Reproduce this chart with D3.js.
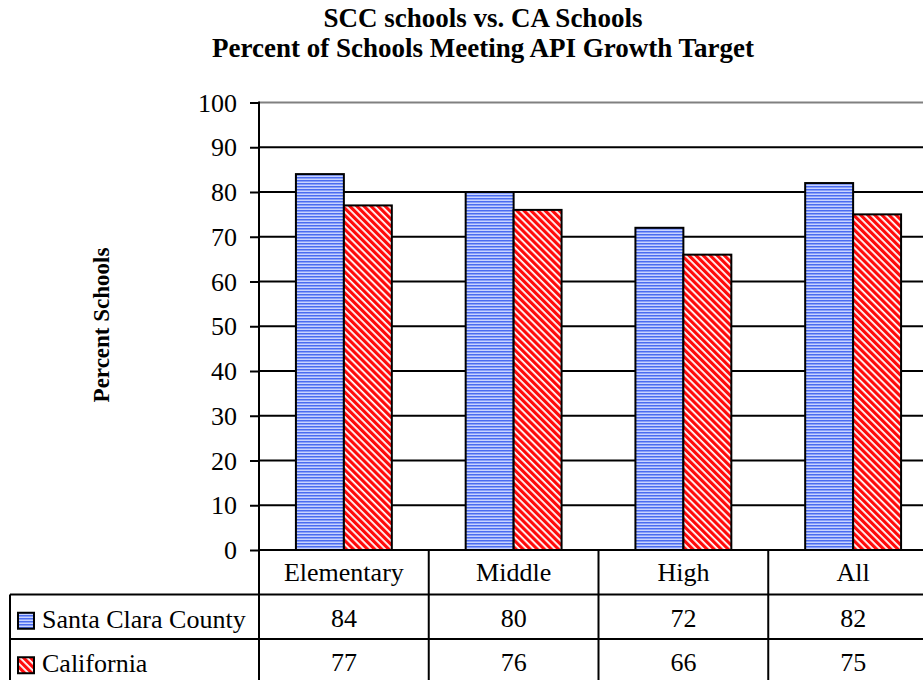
<!DOCTYPE html>
<html><head><meta charset="utf-8">
<script src="https://cdn.jsdelivr.net/npm/d3@7"></script>
<style>body{margin:0;background:#fff;} svg{display:block;}</style>
</head><body>
<svg id="c" width="923" height="680"></svg>
<script>
const categories = ["Elementary", "Middle", "High", "All"];
const seriesNames = ["Santa Clara County", "California"];
const sccValues = [84, 80, 72, 82];
const caValues = [77, 76, 66, 75];
const yTicks = [0, 10, 20, 30, 40, 50, 60, 70, 80, 90, 100];
const titleLines = ["SCC schools vs. CA Schools", "Percent of Schools Meeting API Growth Target"];
const yTitle = "Percent Schools";

(function () {
const series = [sccValues, caValues];
const font = "'Liberation Serif','Times New Roman',serif";
const svg = d3.select("#c");
const defs = svg.append("defs");

// patterns
const pb = defs.append("pattern").attr("id","pBlue").attr("patternUnits","userSpaceOnUse")
  .attr("width",4).attr("height",3);
pb.append("rect").attr("width",4).attr("height",3).attr("fill","#c8d3ff");
pb.append("rect").attr("width",4).attr("height",1.5).attr("fill","#4a6cf0");
const pr = defs.append("pattern").attr("id","pRed").attr("patternUnits","userSpaceOnUse")
  .attr("width",5).attr("height",5).attr("patternTransform","rotate(-45)");
pr.append("rect").attr("width",5).attr("height",5).attr("fill","#ffffff");
pr.append("rect").attr("width",3.2).attr("height",5).attr("fill","#ff0a0a");
const fills = ["url(#pBlue)", "url(#pRed)"];

const pL = 259, pR = 938, pT = 102.5, pB = 550;
const x = d3.scaleBand().domain(categories).range([pL, pR]).padding(0);
const xs = d3.scaleBand().domain(seriesNames).range([0, x.bandwidth()]).paddingInner(0).paddingOuter(0.77);
const y = d3.scaleLinear().domain([0, 100]).range([pB, pT]);

// gridlines
svg.append("g").selectAll("line").data(yTicks.filter(d => d > 0)).join("line")
  .attr("x1", pL).attr("x2", pR)
  .attr("y1", d => y(d)).attr("y2", d => y(d))
  .attr("stroke", d => d === 100 ? "#808080" : "#000").attr("stroke-width", 2);

// bars
const g = svg.append("g");
categories.forEach((c, i) => {
  seriesNames.forEach((s, j) => {
    g.append("rect")
      .attr("x", x(c) + xs(s)).attr("y", y(series[j][i]))
      .attr("width", xs.bandwidth()).attr("height", y(0) - y(series[j][i]))
      .attr("fill", fills[j]).attr("stroke", "#000").attr("stroke-width", 2);
  });
});

// y axis
const yAxis = d3.axisLeft(y).tickValues(yTicks).tickSize(9).tickPadding(13).tickFormat(d3.format("d"));
const ya = svg.append("g").attr("transform", `translate(${pL},0)`).call(yAxis);
ya.select(".domain").remove();
ya.selectAll(".tick line").attr("stroke", "#000").attr("stroke-width", 2);
ya.selectAll(".tick text").attr("font-family", font).attr("font-size", 26).attr("fill", "#000").attr("dy", "0.33em");
svg.append("line").attr("x1", pL).attr("x2", pL).attr("y1", pT - 1).attr("y2", 680)
  .attr("stroke", "#000").attr("stroke-width", 2);
svg.append("line").attr("x1", pL).attr("x2", pR).attr("y1", pB).attr("y2", pB)
  .attr("stroke", "#000").attr("stroke-width", 2);

// data table
const rowH = 44.5;
const rowY = [pB, pB + rowH, pB + 2 * rowH];
const tableLeft = 10;
const tg = svg.append("g");
[rowY[1], rowY[2]].forEach(yy => {
  tg.append("line").attr("x1", tableLeft).attr("x2", pR).attr("y1", yy).attr("y2", yy)
    .attr("stroke", "#000").attr("stroke-width", 2);
});
tg.append("line").attr("x1", tableLeft).attr("x2", tableLeft).attr("y1", rowY[1]).attr("y2", 680)
  .attr("stroke", "#000").attr("stroke-width", 2);
categories.forEach(c => {
  tg.append("line").attr("x1", x(c) + x.bandwidth()).attr("x2", x(c) + x.bandwidth())
    .attr("y1", pB).attr("y2", 680).attr("stroke", "#000").attr("stroke-width", 2);
});
tg.selectAll("text.cat").data(categories).join("text").attr("class","cat")
  .attr("x", d => x(d) + x.bandwidth() / 2).attr("y", rowY[0] + rowH / 2)
  .attr("dy", "0.35em").attr("text-anchor", "middle")
  .attr("font-family", font).attr("font-size", 26).text(d => d);
series.forEach((vals, j) => {
  tg.selectAll("text.v" + j).data(vals).join("text").attr("class", "v" + j)
    .attr("x", (d, i) => x(categories[i]) + x.bandwidth() / 2).attr("y", rowY[j + 1] + rowH / 2)
    .attr("dy", "0.38em").attr("text-anchor", "middle")
    .attr("font-family", font).attr("font-size", 26).text(d => d);
  tg.append("rect").attr("x", 18).attr("y", rowY[j + 1] + rowH / 2 - 4)
    .attr("width", 16).attr("height", 16).attr("fill", fills[j]).attr("stroke", "#000").attr("stroke-width", 2);
  tg.append("text").attr("x", 42).attr("y", rowY[j + 1] + rowH / 2).attr("dy", "0.42em")
    .attr("font-family", font).attr("font-size", 26).text(seriesNames[j]);
});

// title
svg.selectAll("text.title").data(titleLines).join("text").attr("class", "title")
  .attr("x", 483).attr("y", (d, i) => 27 + i * 30)
  .attr("text-anchor", "middle").attr("font-family", font).attr("font-weight", "bold")
  .attr("font-size", 27).text(d => d);
svg.append("text").attr("transform", "translate(109,325) rotate(-90)")
  .attr("text-anchor", "middle").attr("font-family", font).attr("font-weight", "bold")
  .attr("font-size", 23).text(yTitle);
})();
</script>
</body></html>
